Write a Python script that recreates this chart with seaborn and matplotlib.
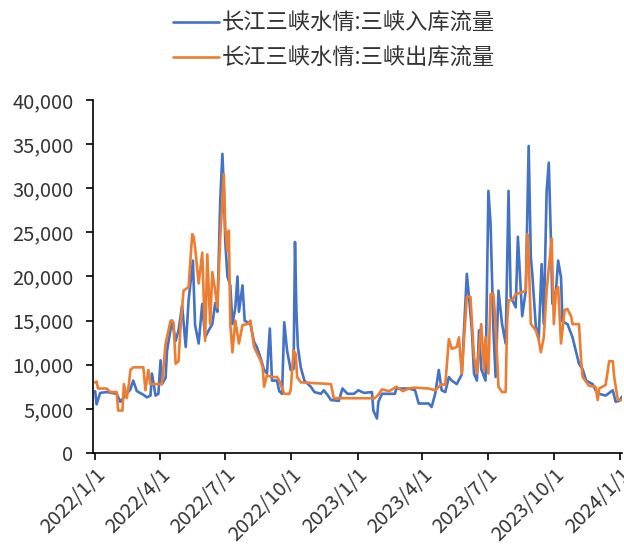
import pandas as pd
import numpy as np
import matplotlib
matplotlib.use("Agg")
import matplotlib.pyplot as plt
import matplotlib.dates as mdates
from matplotlib.ticker import FuncFormatter
import seaborn as sns

# -----------------------------
# Data (m3/s)
# -----------------------------
in_dates = [
    "2022-01-01", "2022-01-03", "2022-01-08", "2022-01-17", "2022-01-31", "2022-02-05",
    "2022-02-10", "2022-02-19", "2022-02-23", "2022-02-28", "2022-03-09", "2022-03-14",
    "2022-03-19", "2022-03-21", "2022-03-26", "2022-03-30", "2022-04-02", "2022-04-04",
    "2022-04-09", "2022-04-11", "2022-04-18", "2022-04-23", "2022-04-27", "2022-05-02",
    "2022-05-07", "2022-05-11", "2022-05-17", "2022-05-20", "2022-05-25", "2022-05-30",
    "2022-06-03", "2022-06-08", "2022-06-13", "2022-06-17", "2022-06-20", "2022-06-24",
    "2022-06-27", "2022-06-29", "2022-07-01", "2022-07-04", "2022-07-08", "2022-07-11",
    "2022-07-15", "2022-07-18", "2022-07-20", "2022-07-25", "2022-07-28", "2022-08-05",
    "2022-08-10", "2022-08-14", "2022-08-19", "2022-08-24", "2022-08-28", "2022-09-01",
    "2022-09-04", "2022-09-11", "2022-09-14", "2022-09-18", "2022-09-21", "2022-09-25",
    "2022-09-30", "2022-10-04", "2022-10-06", "2022-10-08", "2022-10-10", "2022-10-14",
    "2022-10-19", "2022-10-28", "2022-11-02", "2022-11-11", "2022-11-15", "2022-11-20",
    "2022-11-25", "2022-12-06", "2022-12-11", "2022-12-18", "2022-12-27", "2023-01-02",
    "2023-01-10", "2023-01-21", "2023-01-23", "2023-01-28", "2023-01-30", "2023-02-04",
    "2023-02-22", "2023-02-24", "2023-03-13", "2023-03-22", "2023-03-27", "2023-04-10",
    "2023-04-14", "2023-04-19", "2023-04-24", "2023-04-28", "2023-05-03", "2023-05-08",
    "2023-05-12", "2023-05-19", "2023-05-26", "2023-06-02", "2023-06-05", "2023-06-09",
    "2023-06-12", "2023-06-16", "2023-06-19", "2023-06-22", "2023-06-28", "2023-07-02",
    "2023-07-05", "2023-07-09", "2023-07-12", "2023-07-16", "2023-07-21", "2023-07-26",
    "2023-07-30", "2023-08-02", "2023-08-09", "2023-08-12", "2023-08-18", "2023-08-23",
    "2023-08-27", "2023-08-30", "2023-09-01", "2023-09-06", "2023-09-10", "2023-09-14",
    "2023-09-17", "2023-09-21", "2023-09-24", "2023-09-27", "2023-09-29", "2023-10-04",
    "2023-10-07", "2023-10-11", "2023-10-13", "2023-10-20", "2023-10-27", "2023-11-05",
    "2023-11-10", "2023-11-15", "2023-11-24", "2023-11-28", "2023-12-03", "2023-12-12",
    "2023-12-17", "2023-12-22", "2023-12-26", "2023-12-31", "2024-01-04",
]
in_vals = [
    7000, 5500, 6800, 6900, 6700, 5800,
    6300, 7200, 8200, 7000, 6600, 6300,
    6500, 9000, 6500, 6700, 10500, 7800,
    8500, 11600, 15000, 12700, 13900, 16700,
    12000, 17300, 21800, 14500, 12400, 16900,
    13100, 13900, 14600, 17000, 16000, 28600,
    33900, 30000, 24000, 20000, 19000, 14600,
    16500, 20000, 16000, 19000, 15000, 14600,
    12600, 12000, 10800, 9400, 9000, 14100,
    8200, 8200, 7000, 6700, 14800, 11600,
    9400, 9500, 23900, 16000, 12000, 9700,
    8200, 7500, 6900, 6700, 7100, 6600,
    6000, 5900, 7300, 6700, 6700, 7100,
    6800, 6900, 4800, 3900, 5800, 6700,
    6700, 7300, 7300, 7100, 5600, 5600,
    5200, 6700, 9400, 7100, 6900, 8600,
    8200, 7800, 8900, 20300, 17700, 13900,
    9000, 8200, 13900, 9500, 8200, 29700,
    26000, 13900, 8600, 18400, 14600, 12400,
    29700, 17700, 16500, 24500, 15500, 18400,
    34800, 22200, 20300, 14300, 13000, 21400,
    14600, 29700, 32900, 24000, 16900, 18400,
    21800, 19900, 14900, 14600, 13100, 10100,
    9500, 8200, 7800, 7100, 6700, 6500,
    6800, 7100, 5800, 5900, 6400,
]

out_dates = [
    "2022-01-01", "2022-01-03", "2022-01-05", "2022-01-17", "2022-01-22", "2022-01-31",
    "2022-02-02", "2022-02-08", "2022-02-10", "2022-02-14", "2022-02-17", "2022-02-19",
    "2022-02-23", "2022-03-09", "2022-03-12", "2022-03-16", "2022-03-19", "2022-03-30",
    "2022-04-04", "2022-04-09", "2022-04-16", "2022-04-20", "2022-04-23", "2022-04-27",
    "2022-04-30", "2022-05-04", "2022-05-11", "2022-05-16", "2022-05-18", "2022-05-20",
    "2022-05-25", "2022-05-30", "2022-06-03", "2022-06-06", "2022-06-10", "2022-06-13",
    "2022-06-17", "2022-06-20", "2022-06-24", "2022-06-29", "2022-07-01", "2022-07-04",
    "2022-07-06", "2022-07-08", "2022-07-11", "2022-07-15", "2022-07-20", "2022-07-25",
    "2022-08-01", "2022-08-05", "2022-08-10", "2022-08-19", "2022-08-22", "2022-08-24",
    "2022-08-28", "2022-09-04", "2022-09-11", "2022-09-14", "2022-09-21", "2022-09-28",
    "2022-09-30", "2022-10-04", "2022-10-07", "2022-10-09", "2022-10-14", "2022-11-25",
    "2022-11-29", "2023-01-01", "2023-01-25", "2023-01-30", "2023-02-04", "2023-02-14",
    "2023-02-24", "2023-03-05", "2023-03-13", "2023-03-22", "2023-04-10", "2023-04-19",
    "2023-04-28", "2023-05-03", "2023-05-08", "2023-05-12", "2023-05-19", "2023-05-22",
    "2023-05-26", "2023-06-02", "2023-06-07", "2023-06-12", "2023-06-16", "2023-06-22",
    "2023-06-26", "2023-06-28", "2023-07-02", "2023-07-05", "2023-07-09", "2023-07-12",
    "2023-07-16", "2023-07-21", "2023-07-26", "2023-07-28", "2023-07-30", "2023-08-04",
    "2023-08-09", "2023-08-18", "2023-08-23", "2023-08-25", "2023-08-27", "2023-08-30",
    "2023-09-06", "2023-09-10", "2023-09-13", "2023-09-17", "2023-09-21", "2023-09-28",
    "2023-10-01", "2023-10-04", "2023-10-07", "2023-10-11", "2023-10-16", "2023-10-20",
    "2023-10-25", "2023-10-27", "2023-11-05", "2023-11-08", "2023-11-10", "2023-11-19",
    "2023-11-28", "2023-12-01", "2023-12-03", "2023-12-12", "2023-12-17", "2023-12-22",
    "2023-12-24", "2023-12-29", "2024-01-04",
]
out_vals = [
    8000, 8100, 7300, 7300, 6900, 6900,
    4800, 4800, 7800, 6200, 7800, 9400,
    9700, 9700, 7100, 9400, 7800, 7800,
    7800, 12400, 15000, 14800, 10100, 10400,
    14600, 18400, 18800, 24800, 24500, 23300,
    19200, 22700, 12700, 22500, 14600, 20500,
    18400, 16500, 24400, 31600, 25500, 22900,
    25200, 14600, 11400, 15000, 12400, 14500,
    14600, 15000, 12000, 10500, 9700, 7500,
    8800, 8600, 8600, 8200, 6700, 6700,
    7100, 11600, 11200, 8600, 8000, 7800,
    6200, 6200, 6200, 6600, 7200, 7000,
    7500, 7000, 7300, 7400, 7300, 7100,
    7800, 7700, 12900, 11800, 12000, 13100,
    9000, 17700, 17700, 10900, 9000, 14600,
    9400, 13100, 9000, 18000, 18000, 14600,
    7500, 6900, 6900, 14600, 17300, 17300,
    18000, 18200, 18400, 24800, 22200, 14600,
    13900, 12800, 11400, 13100, 18400, 24300,
    14600, 18400, 18800, 12400, 16200, 16300,
    15500, 14600, 14600, 10500, 8600, 7600,
    7500, 6000, 7300, 7700, 10400, 10400,
    8600, 6000, 6000,
]

series_names = ["长江三峡水情:三峡入库流量", "长江三峡水情:三峡出库流量"]
series_colors = ["#4472C4", "#ED7D31"]

# -----------------------------
# Build long table
# -----------------------------
df_in = pd.DataFrame({"date": pd.to_datetime(in_dates), "value": in_vals, "series": series_names[0]})
df_out = pd.DataFrame({"date": pd.to_datetime(out_dates), "value": out_vals, "series": series_names[1]})
df = pd.concat([df_in, df_out], ignore_index=True)

# -----------------------------
# Plot
# -----------------------------
sns.set_style("white")
plt.rcParams["font.family"] = ["Noto Sans CJK SC", "DejaVu Sans"]

fig = plt.figure(figsize=(6.24, 5.51), dpi=100)
ax = fig.add_axes([0.149, 0.178, 0.848, 0.6405])

sns.lineplot(data=df, x="date", y="value", hue="series", hue_order=series_names,
             palette=dict(zip(series_names, series_colors)), linewidth=1.9,
             ax=ax, legend=True)

ax.set_ylim(0, 40000)
ax.set_yticks(np.arange(0, 40001, 5000))
ax.yaxis.set_major_formatter(FuncFormatter(lambda v, p: f"{int(v):,}"))
ax.set_xlim(pd.Timestamp("2021-12-29"), pd.Timestamp("2024-01-04"))
ax.xaxis.set_major_locator(mdates.MonthLocator(bymonth=[1, 4, 7, 10]))
ax.xaxis.set_major_formatter(FuncFormatter(
    lambda v, p: "{d.year}/{d.month}/{d.day}".format(d=mdates.num2date(v))))
ax.set_xlabel("")
ax.set_ylabel("")

for s in ["top", "right"]:
    ax.spines[s].set_visible(False)
for s in ["left", "bottom"]:
    ax.spines[s].set_color("black")
    ax.spines[s].set_linewidth(1.2)

ax.tick_params(axis="both", which="major", direction="out", length=5, width=1.2,
               color="black", labelsize=14.5, labelcolor="#333333", left=True, bottom=True)
ax.tick_params(axis="y", pad=9)
ax.tick_params(axis="x", pad=3)
plt.setp(ax.get_xticklabels(), rotation=45, ha="right", rotation_mode="anchor")

handles, labels = ax.get_legend_handles_labels()
ax.get_legend().remove()
fig.legend(handles, labels, loc="upper center", bbox_to_anchor=(0.535, 1.015),
           ncol=1, frameon=False, fontsize=16, handlelength=2.1, handletextpad=0.1,
           labelspacing=0.55, labelcolor="#333333")

fig.savefig("out.png", dpi=100)
